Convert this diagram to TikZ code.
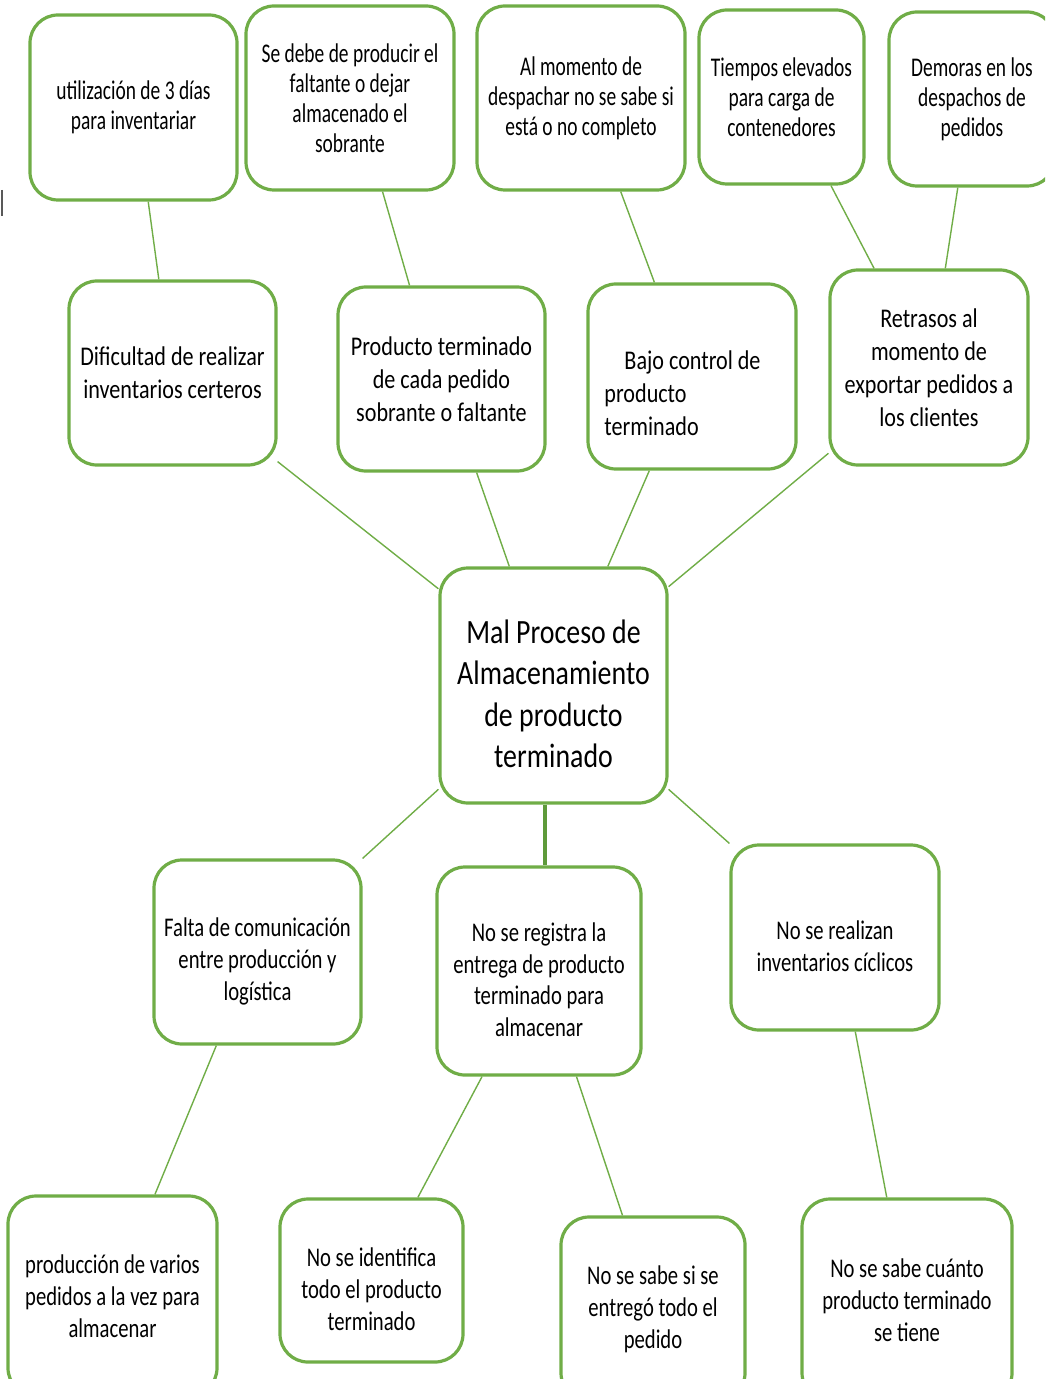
\documentclass[tikz,border=0pt]{standalone}
\usepackage{fontspec}
\setmainfont{Carlito}[FakeStretch=0.72]
\newfontfamily\midfont{Carlito}[FakeStretch=0.82]
\newfontfamily\lowfont{Carlito}[FakeStretch=0.765]
\usetikzlibrary{positioning,calc}
\definecolor{boxgreen}{HTML}{70AD47}
\definecolor{trunkgreen}{HTML}{5E9A3A}
\newcommand{\lowr}[1]{\rule{0pt}{#1}}

\begin{document}
\begin{tikzpicture}[x=0.5pt,y=-0.5pt,
  box/.style={draw=boxgreen,line width=1.6pt,rounded corners=14pt,fill=white,
    align=center,inner sep=0pt,font=\fontsize{13.5}{15}\selectfont},
  midbox/.style={box,font=\midfont\fontsize{13.5}{16.5}\selectfont},
  lowbox/.style={box,font=\lowfont\fontsize{13.5}{15.9}\selectfont},
  bigbox/.style={box,font=\midfont\fontsize{17}{20.75}\selectfont},
  link/.style={boxgreen,line width=0.7pt},
  trunk/.style={trunkgreen,line width=2.3pt}]
\useasboundingbox (0,0) rectangle (1045,1379);
\clip (0,0) rectangle (1045,1379);
\draw[gray!70!black,line width=0.8pt] (2,190) -- (2,216);
% top row
\node[box,minimum width=103.5pt,minimum height=92.5pt] (t1) at (133.5,107.5) {utilización de 3 días\\para inventariar};
\node[box,minimum width=104pt,minimum height=92pt] (t2) at (350,98) {Se debe de producir el\\faltante o dejar\\almacenado el\\sobrante};
\node[box,minimum width=104pt,minimum height=92pt] (t3) at (581,98) {Al momento de\\despachar no se sabe si\\está o no completo};
\node[box,minimum width=82.5pt,minimum height=87pt] (t4) at (781.5,97) {Tiempos elevados\\para carga de\\contenedores};
\node[box,minimum width=83pt,minimum height=87pt] (t5) at (972,99) {Demoras en los\\despachos de\\pedidos};
% second row
\node[midbox,minimum width=103.5pt,minimum height=92pt] (m1) at (172.5,373) {Dificultad de realizar\\inventarios certeros};
\node[midbox,minimum width=103.5pt,minimum height=92pt] (m2) at (441.5,379) {Producto terminado\\de cada pedido\\sobrante o faltante};
\node[midbox,align=left,minimum width=104pt,minimum height=92.5pt] (m3) at (692,376.5) {\lowr{26pt}\hspace*{10pt}Bajo control de\hspace*{9.5pt}\\producto\\terminado};
\node[midbox,minimum width=99pt,minimum height=97.5pt] (m4) at (929,367.5) {Retrasos al\\momento de\\exportar pedidos a\\los clientes};
% central problem
\node[bigbox,minimum width=113.5pt,minimum height=117.5pt] (c) at (553.5,685.5) {\lowr{20pt}Mal Proceso de\\Almacenamiento\\de producto\\terminado};
% causes
\node[lowbox,minimum width=103.5pt,minimum height=92pt] (l1) at (257.5,952) {\lowr{19pt}Falta de comunicación\\entre producción y\\logística};
\node[lowbox,minimum width=102pt,minimum height=104pt] (l2) at (539,971) {\lowr{18pt}No se registra la\\entrega de producto\\terminado para\\almacenar};
\node[lowbox,minimum width=104pt,minimum height=92.5pt] (l3) at (835,937.5) {\lowr{18pt}No se realizan\\inventarios cíclicos};
% bottom row
\node[lowbox,minimum width=104.5pt,minimum height=100pt] (b1) at (112.5,1296) {producción de varios\\pedidos a la vez para\\almacenar};
\node[lowbox,minimum width=91.5pt,minimum height=81.5pt] (b2) at (371.5,1280.5) {\lowr{18pt}No se identifica\\todo el producto\\terminado};
\node[lowbox,minimum width=92pt,minimum height=92pt] (b3) at (653,1309) {No se sabe si se\\entregó todo el\\pedido};
\node[lowbox,minimum width=105pt,minimum height=101pt] (b4) at (907,1300) {No se sabe cuánto\\producto terminado\\se tiene};
% connectors, effects
\draw[link] ($(t1.south west)!.57!(t1.south east)$) -- ($(m1.north west)!.435!(m1.north east)$);
\draw[link] ($(t2.south west)!.654!(t2.south east)$) -- ($(m2.north west)!.348!(m2.north east)$);
\draw[link] ($(t3.south west)!.688!(t3.south east)$) -- ($(m3.north west)!.322!(m3.north east)$);
\draw[link] ($(t4.south west)!.794!(t4.south east)$) -- ($(m4.north west)!.227!(m4.north east)$);
\draw[link] ($(t5.south west)!.416!(t5.south east)$) -- ($(m4.north west)!.581!(m4.north east)$);
\draw[link] ($(m1.south east)+(0,-5)$) -- ($(c.north west)!.094!(c.south west)$);
\draw[link] ($(m2.south west)!.667!(m2.south east)$) -- ($(c.north west)!.308!(c.north east)$);
\draw[link] ($(m3.south west)!.298!(m3.south east)$) -- ($(c.north west)!.736!(c.north east)$);
\draw[link] ($(m4.north west)!.933!(m4.south west)$) -- ($(c.north east)!.085!(c.south east)$);
% connectors, causes
\draw[link] ($(c.north west)!.936!(c.south west)$) -- (l1.north east);
\coordinate (cb) at ($(c.south west)!.463!(c.south east)$);
\draw[trunk] (cb) -- (cb |- l2.north);
\draw[link] ($(c.north east)!.936!(c.south east)$) -- (l3.north west);
\draw[link] ($(l1.south west)!.304!(l1.south east)$) -- ($(b1.north west)!.70!(b1.north east)$);
\draw[link] ($(l2.south west)!.225!(l2.south east)$) -- ($(b2.north west)!.749!(b2.north east)$);
\draw[link] ($(l2.south west)!.681!(l2.south east)$) -- ($(b3.north west)!.337!(b3.north east)$);
\draw[link] ($(l3.south west)!.596!(l3.south east)$) -- ($(b4.north west)!.405!(b4.north east)$);
\end{tikzpicture}
\end{document}
